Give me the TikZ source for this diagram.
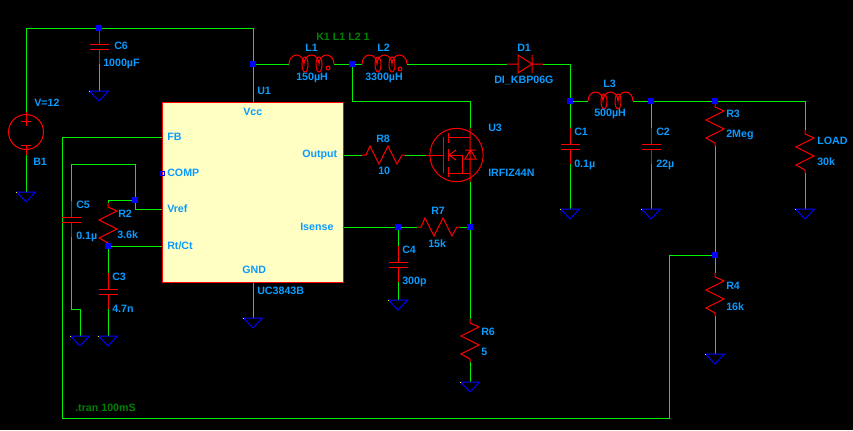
\documentclass[tikz,border=0pt]{standalone}
\usepackage{fontspec}
\setmainfont{Liberation Sans}
\usetikzlibrary{backgrounds}
\definecolor{lblblue}{HTML}{0A9BFF}
\definecolor{lblgreen}{HTML}{008000}
\definecolor{wiregreen}{HTML}{00F000}
\definecolor{boxyellow}{HTML}{FFFFC4}
\tikzset{
  wire/.style={draw=wiregreen,line width=.75pt},
  part/.style={draw=red,line width=.75pt},
  lbl/.style={anchor=west,inner sep=0pt,text=lblblue,font=\bfseries\fontsize{8}{9}\selectfont},
  cmd/.style={lbl,text=lblgreen},
  junc/.style={fill=blue,inner sep=0pt,minimum size=3.9pt},
  res/.pic={
    \draw[part] (0,0) -- (0,4) -- (9,8) -- (-9,17) -- (9,26) -- (-9,35) -- (0,40) -- (0,43);
    \coordinate (-in) at (0,0);
    \coordinate (-out) at (0,43);
  },
  cap/.pic={
    \draw[part] (0,0) -- (0,16.5) (-9.5,16.5) -- (9.5,16.5) (-9.5,21) -- (9.5,21) (0,21) -- (0,36);
    \coordinate (-in) at (0,0);
    \coordinate (-out) at (0,36);
  },
  coil/.pic={
    \draw[part] (0,0) arc (180:360:7.5 and 9) arc (180:360:7.5 and 9) arc (180:360:7.5 and 9);
    \draw[part] (16,.5) circle [x radius=3,y radius=7.5] (30,.5) circle [x radius=3,y radius=7.5];
    \coordinate (-in) at (0,0);
    \coordinate (-out) at (45,0);
  },
  gnd/.pic={
    \draw[draw=blue,line width=.75pt] (-9.5,0) -- (9.5,0) -- (0,10) -- cycle;
    \fill[yellow] (-10,-.5) rectangle (-9,.5);
    \coordinate (-t) at (0,0);
  }
}
\begin{document}
\begin{tikzpicture}[x=.75pt,y=-.75pt]
\useasboundingbox (0,0) rectangle (853,430);

\node[draw=red,fill=boxyellow,line width=.75pt,inner sep=0pt,minimum width=135.75pt,minimum height=135pt] (u1) at (252.5,192) {};
\node[draw=blue,line width=.6pt,inner sep=0pt,minimum size=3pt] (comp) at (162,173) {};

\coordinate (b1top) at (26,112);
\coordinate (b1bot) at (26,155);
\coordinate (vcctop) at (253,28);
\coordinate (vcc) at (253,102);
\coordinate (fb) at (162,137);
\coordinate (vref) at (162,209);
\coordinate (rtct) at (162,246);
\coordinate (gndpin) at (253,282);
\coordinate (output) at (343,155);
\coordinate (isense) at (343,227);
\coordinate (d1in) at (507,64);
\coordinate (d1out) at (543,64);
\coordinate (gate) at (426,155);
\coordinate (drain) at (470,128);
\coordinate (source) at (470,182);

\pic (c6) at (99,28) {cap};
\pic (c5) at (71,201) {cap};
\pic (c3) at (108,273) {cap};
\pic (c4) at (398,246) {cap};
\pic (c1) at (570,128) {cap};
\pic (c2) at (651,128) {cap};
\pic (r2) at (108,203) {res};
\pic (r3) at (715,103) {res};
\pic (r4) at (715,273) {res};
\pic (r6) at (470,319) {res};
\pic (rload) at (805,130) {res};
\pic[rotate=90] (r7) at (417,227) {res};
\pic[rotate=90] (r8) at (362,155) {res};
\pic (l1) at (289,64) {coil};
\pic (l2) at (362,64) {coil};
\pic (l3) at (588,101) {coil};
\draw[part] (328,68) circle (2);
\draw[part] (400,69) circle (2);

\pic (g1) at (26,192) {gnd};
\pic (g2) at (99,91) {gnd};
\pic (g3) at (80,336) {gnd};
\pic (g4) at (108,336) {gnd};
\pic (g5) at (253,318) {gnd};
\pic (g6) at (398,300) {gnd};
\pic (g7) at (470,382) {gnd};
\pic (g8) at (570,209) {gnd};
\pic (g9) at (651,209) {gnd};
\pic (g10) at (715,354) {gnd};
\pic (g11) at (805,209) {gnd};

\node[junc] (jc6) at (99,28) {};
\node[junc] (jvcc) at (253,64) {};
\node[junc] (jl) at (352,64) {};
\node[junc] (jc1) at (570,101) {};
\node[junc] (jc2) at (651,101) {};
\node[junc] (jr3) at (715,101) {};
\node[junc] (jfb) at (715,255) {};
\node[junc] (jvref) at (135,200) {};
\node[junc] (jrt) at (108,246) {};
\node[junc] (jc4) at (398,227) {};
\node[junc] (jr7) at (470,227) {};

\begin{scope}[on background layer]
\fill[black] (0,0) rectangle (853,430);
\draw[wire] (b1top) |- (vcctop) -- (vcc);
\draw[wire] (b1bot) -- (g1-t);
\draw[wire] (c6-out) -- (g2-t);
\draw[wire] (jvcc) -- (l1-in);
\draw[wire] (l1-out) -- (l2-in);
\draw[wire] (l2-out) -- (d1in);
\draw[wire] (d1out) -| (jc1);
\draw[wire] (jc1) -- (l3-in);
\draw[wire] (l3-out) -- (rload-in |- jc2) -- (rload-in);
\draw[wire] (rload-out) -- (g11-t);
\draw[wire] (jc1) -- (c1-in);
\draw[wire] (c1-out) -- (g8-t);
\draw[wire] (jc2) -- (c2-in);
\draw[wire] (c2-out) -- (g9-t);
\draw[wire] (r3-out) -- (r4-in);
\draw[wire] (r4-out) -- (g10-t);
\draw[wire] (jl) |- (470,101) -- (drain);
\draw[wire] (source) -- (r6-in);
\draw[wire] (r6-out) -- (g7-t);
\draw[wire] (output) -- (r8-in);
\draw[wire] (r8-out) -- (gate);
\draw[wire] (isense) -- (r7-in);
\draw[wire] (r7-out) -- (jr7);
\draw[wire] (jc4) -- (c4-in);
\draw[wire] (c4-out) -- (g6-t);
\draw[wire] (gndpin) -- (g5-t);
\draw[wire] (fb) -| (62,418) -| (669,255) -- (jfb);
\draw[wire] (vref) -| (jvref);
\draw[wire] (jvref) |- (71,164) -- (c5-in);
\draw[wire] (c5-out) |- (80,309) -- (g3-t);
\draw[wire] (jvref) -- (r2-in |- jvref) -- (r2-in);
\draw[wire] (r2-out) -- (jrt);
\draw[wire] (jrt) -- (rtct);
\draw[wire] (jrt) -- (c3-in);
\draw[wire] (c3-out) -- (g4-t);
\end{scope}

\node[draw=red,line width=.75pt,circle,inner sep=0pt,minimum size=26.25pt] (b1) at (26,132) {};
\draw[part] (b1top) -- (26,126) (21,121) -- (31,121) (21,145) -- (31,145) (26,145) -- (b1bot);
\draw[part] (d1in) -- (518,64) (518,55) -- (518,73) -- (532,64) -- cycle (532,55) -- (532,73) (532,64) -- (d1out);

\node[draw=red,line width=.75pt,circle,inner sep=0pt,minimum size=40pt] (u3) at (456.5,155) {};
\draw[part] (gate) -- (443,155) (443,137) -- (443,173);
\draw[part] (448,133) -- (448,143) (448,149) -- (448,161) (448,167) -- (448,177);
\draw[part] (448,137) -- (470,137) (448,173) -- (470,173) (448,155) -- (462,155) -- (462,173);
\draw[part] (456,150) -- (449,155) -- (456,160);
\draw[part] (drain) -- (source) (465,150) -- (476,150) (470.5,150) -- (465,159) -- (476,159) -- cycle;

\node[lbl] (tc6) at (114,46) {C6};
\node[lbl] (tc6v) at (103,64) {1000µF};
\node[lbl] (tu1) at (257,91) {U1};
\node[lbl] (tv) at (34,103) {V=12};
\node[lbl] (tb1) at (33,162) {B1};
\node[lbl] (tvcc) at (243,112) {Vcc};
\node[lbl] (tfb) at (167,137) {FB};
\node[lbl] (tcomp) at (167,173) {COMP};
\node[lbl] (tvref) at (167,209) {Vref};
\node[lbl] (trtct) at (167,246) {Rt/Ct};
\node[lbl] (tgnd) at (242,270) {GND};
\node[lbl] (tuc) at (257,291) {UC3843B};
\node[lbl] (toutput) at (302,155) {Output};
\node[lbl] (tisense) at (300,227) {Isense};
\node[lbl] (tc5) at (76,205) {C5};
\node[lbl] (tc5v) at (76,237) {0.1µ};
\node[lbl] (tr2) at (118,214) {R2};
\node[lbl] (tr2v) at (117,235) {3.6k};
\node[lbl] (tc3) at (112,277) {C3};
\node[lbl] (tc3v) at (112,309) {4.7n};
\node[cmd] (tk1) at (316,37) {K1 L1 L2 1};
\node[lbl] (tl1) at (305,48) {L1};
\node[lbl] (tl1v) at (296,78) {150µH};
\node[lbl] (tl2) at (377,48) {L2};
\node[lbl] (tl2v) at (365,78) {3300µH};
\node[lbl] (td1) at (517,48) {D1};
\node[lbl] (td1v) at (494,80) {DI\_KBP06G};
\node[lbl] (tl3) at (603,84) {L3};
\node[lbl] (tl3v) at (594,114) {500µH};
\node[lbl] (tc1) at (574,132) {C1};
\node[lbl] (tc1v) at (574,165) {0.1µ};
\node[lbl] (tc2) at (656,132) {C2};
\node[lbl] (tc2v) at (656,165) {22µ};
\node[lbl] (tr3) at (726,114) {R3};
\node[lbl] (tr3v) at (726,135) {2Meg};
\node[lbl] (tload) at (817,141) {LOAD};
\node[lbl] (tloadv) at (817,162) {30k};
\node[lbl] (tr4) at (726,286) {R4};
\node[lbl] (tr4v) at (726,307) {16k};
\node[lbl] (tr6) at (481,332) {R6};
\node[lbl] (tr6v) at (481,352) {5};
\node[lbl] (tc4) at (402,250) {C4};
\node[lbl] (tc4v) at (402,282) {300p};
\node[lbl] (tr7) at (431,211) {R7};
\node[lbl] (tr7v) at (428,244) {15k};
\node[lbl] (tr8) at (376,139) {R8};
\node[lbl] (tr8v) at (378,171) {10};
\node[lbl] (tu3) at (488,128) {U3};
\node[lbl] (tu3v) at (488,173) {IRFIZ44N};
\node[cmd] (ttran) at (75,408) {.tran 100mS};
\end{tikzpicture}
\end{document}
